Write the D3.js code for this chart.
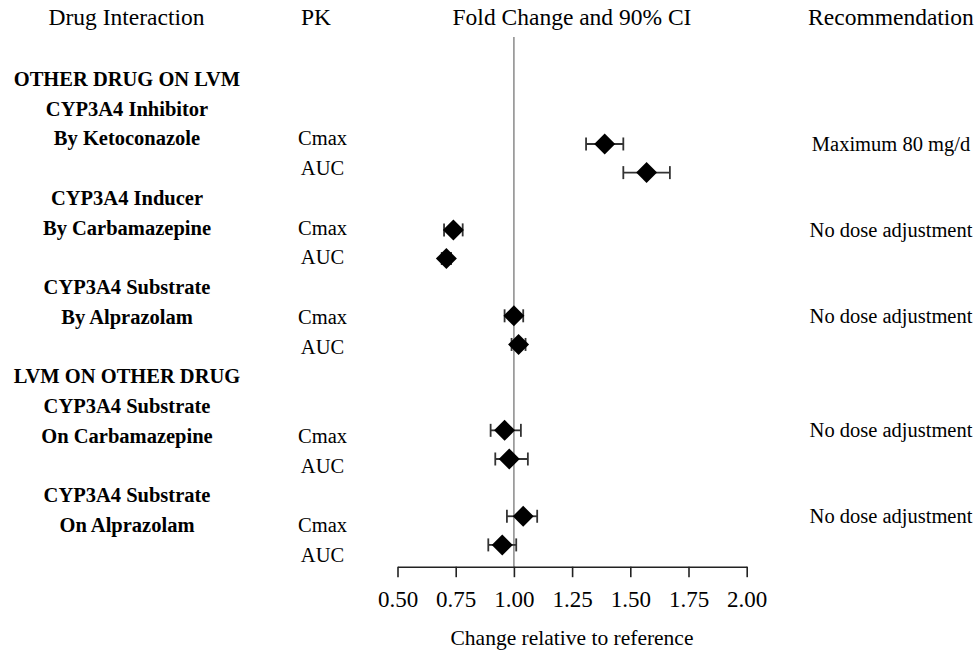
<!DOCTYPE html>
<html>
<head>
<meta charset="utf-8">
<script src="https://cdn.jsdelivr.net/npm/d3@7"></script>
<style>
  body { margin: 0; background: #fff; }
</style>
</head>
<body>
<div id="chart"></div>
<script>
// row labels on the left, one per text row (empty = no label)
const groupLabels = [
  "OTHER DRUG ON LVM", "CYP3A4 Inhibitor", "By Ketoconazole", "",
  "CYP3A4 Inducer", "By Carbamazepine", "",
  "CYP3A4 Substrate", "By Alprazolam", "",
  "LVM ON OTHER DRUG", "CYP3A4 Substrate", "On Carbamazepine", "",
  "CYP3A4 Substrate", "On Alprazolam", ""
];

// PK rows
const pkRow = [2, 3, 5, 6, 8, 9, 12, 13, 15, 16];
const pkParam = ["Cmax", "AUC", "Cmax", "AUC", "Cmax", "AUC", "Cmax", "AUC", "Cmax", "AUC"];
const foldChange = [1.39, 1.57, 0.74, 0.71, 1.00, 1.02, 0.96, 0.98, 1.04, 0.95];
const ciLower    = [1.31, 1.47, 0.70, 0.69, 0.96, 0.99, 0.90, 0.92, 0.97, 0.89];
const ciUpper    = [1.47, 1.67, 0.78, 0.73, 1.04, 1.05, 1.03, 1.06, 1.10, 1.01];

// recommendations
const recRow = [2, 5, 8, 12, 15];
const recText = ["Maximum 80 mg/d", "No dose adjustment", "No dose adjustment",
                 "No dose adjustment", "No dose adjustment"];

const headers = ["Drug Interaction", "PK", "Fold Change and 90% CI", "Recommendation"];
const xTicks = [0.5, 0.75, 1.0, 1.25, 1.5, 1.75, 2.0];

const width = 979, height = 654;
const serif = "'Liberation Serif', 'Times New Roman', Times, serif";

const svg = d3.select("#chart").append("svg")
  .attr("width", width)
  .attr("height", height)
  .style("display", "block")
  .style("font-family", serif);

const x = d3.scaleLinear().domain([0.5, 2.0]).range([397.5, 746.7]);
const textY = d3.scaleLinear().domain([0, 16]).range([86, 561.7]);   // text baselines
const plotY = d3.scaleLinear().domain([0, 16]).range([86.7, 544.9]); // marker centres
const axisY = 566.7;

const headerX = [126.5, 316, 572, 891];

svg.selectAll("text.header")
  .data(headers)
  .enter().append("text")
  .attr("class", "header")
  .attr("x", (d, i) => headerX[i])
  .attr("y", 25)
  .attr("text-anchor", "middle")
  .style("font-family", serif)
  .style("font-size", "23.5px")
  .text(d => d);

svg.selectAll("text.group")
  .data(groupLabels)
  .enter().append("text")
  .attr("class", "group")
  .attr("x", 127)
  .attr("y", (d, i) => textY(i))
  .attr("text-anchor", "middle")
  .style("font-family", serif)
  .style("font-size", "20.5px")
  .style("font-weight", "bold")
  .text(d => d);

svg.selectAll("text.pk")
  .data(pkParam)
  .enter().append("text")
  .attr("class", "pk")
  .attr("x", 322.5)
  .attr("y", (d, i) => textY(pkRow[i]))
  .attr("text-anchor", "middle")
  .style("font-family", serif)
  .style("font-size", "20.5px")
  .text(d => d);

svg.selectAll("text.rec")
  .data(recText)
  .enter().append("text")
  .attr("class", "rec")
  .attr("x", 891)
  .attr("y", (d, i) => plotY(recRow[i]))
  .attr("dy", "0.33em")
  .attr("text-anchor", "middle")
  .style("font-family", serif)
  .style("font-size", "20.5px")
  .text(d => d);

// reference line at 1.0
svg.append("line")
  .attr("x1", x(1)).attr("x2", x(1))
  .attr("y1", 37).attr("y2", axisY)
  .attr("stroke", "#8a8a8a")
  .attr("stroke-width", 1.5);

// axis
const axis = d3.axisBottom(x)
  .tickValues(xTicks)
  .tickFormat(d3.format(".2f"))
  .tickSize(10.5)
  .tickSizeOuter(0);

const gAxis = svg.append("g")
  .attr("transform", `translate(0,${axisY})`)
  .call(axis)
  .attr("font-family", null);

gAxis.select(".domain").attr("stroke", "#222").attr("stroke-width", 1.6);
gAxis.selectAll(".tick line").attr("stroke", "#222").attr("stroke-width", 1.6);
gAxis.selectAll(".tick text")
  .attr("y", 40)
  .attr("dy", 0)
  .attr("fill", "#000")
  .style("font-family", serif)
  .style("font-size", "23px");

svg.append("text")
  .attr("x", 572)
  .attr("y", 645)
  .attr("text-anchor", "middle")
  .style("font-family", serif)
  .style("font-size", "21.5px")
  .text("Change relative to reference");

// error bars
const capH = 6.5;
const bars = svg.append("g").attr("stroke", "#333").attr("stroke-width", 1.8);
pkRow.forEach((r, i) => {
  const cy = plotY(r);
  bars.append("line")
    .attr("x1", x(ciLower[i])).attr("x2", x(ciUpper[i]))
    .attr("y1", cy).attr("y2", cy);
  bars.append("line")
    .attr("x1", x(ciLower[i])).attr("x2", x(ciLower[i]))
    .attr("y1", cy - capH).attr("y2", cy + capH);
  bars.append("line")
    .attr("x1", x(ciUpper[i])).attr("x2", x(ciUpper[i]))
    .attr("y1", cy - capH).attr("y2", cy + capH);
});

// diamonds
const diamond = d3.symbol().type(d3.symbolSquare).size(220);
svg.selectAll("path.pt")
  .data(foldChange)
  .enter().append("path")
  .attr("class", "pt")
  .attr("d", diamond)
  .attr("transform", (d, i) => `translate(${x(d)},${plotY(pkRow[i])}) rotate(45)`)
  .attr("fill", "#000");
</script>
</body>
</html>
